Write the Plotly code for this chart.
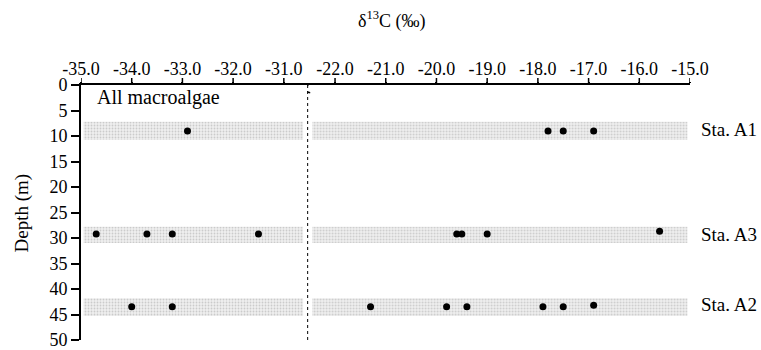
import plotly.graph_objects as go

# ---- data ----
left_ticks = [-35.0, -34.0, -33.0, -32.0, -31.0]
right_ticks = [-22.0, -21.0, -20.0, -19.0, -18.0, -17.0, -16.0, -15.0]
left_ticklabels = ["-35.0", "-34.0", "-33.0", "-32.0", "-31.0"]
right_ticklabels = ["-22.0", "-21.0", "-20.0", "-19.0", "-18.0", "-17.0", "-16.0", "-15.0"]
depth_ticks = [0, 5, 10, 15, 20, 25, 30, 35, 40, 45, 50]

left_range = [-35.0, -30.54]
right_range = [-22.55, -15.0]

stations = ["Sta. A1", "Sta. A3", "Sta. A2"]
station_depth = [8.8, 29.4, 43.1]
band_top = [7.2, 27.8, 41.8]
band_bottom = [10.8, 31.0, 45.3]
band_left_x = [-34.95, -30.62]
band_right_x = [-22.45, -15.05]

# sample points (d13C, depth)
a1_x = [-32.9, -17.8, -17.5, -16.9]
a1_y = [9.0, 9.0, 9.0, 9.0]
a3_x = [-34.7, -33.7, -33.2, -31.5, -19.6, -19.5, -19.0, -15.6]
a3_y = [29.2, 29.2, 29.2, 29.2, 29.2, 29.2, 29.2, 28.7]
a2_x = [-34.0, -33.2, -21.3, -19.8, -19.4, -17.9, -17.5, -16.9]
a2_y = [43.5, 43.5, 43.5, 43.5, 43.5, 43.5, 43.5, 43.2]

FONT = "Liberation Serif"
PLOT_H = 255  # plot-area height in px (350 - 85 - 10)
split = (left_range[1] - left_range[0]) / ((left_range[1] - left_range[0]) + (right_range[1] - right_range[0]))

fig = go.Figure()

# bands
for t, bt in zip(band_top, band_bottom):
    for xs, xa in ((band_left_x, "x"), (band_right_x, "x2")):
        fig.add_trace(go.Scatter(
            x=[xs[0], xs[1], xs[1], xs[0], xs[0]], y=[t, t, bt, bt, t],
            xaxis=xa, yaxis="y", mode="lines", fill="toself",
            line=dict(width=0), fillcolor="#e8e8e8",
            fillpattern=dict(shape=".", size=3, solidity=0.3, fgcolor="#a8a8a8", bgcolor="#efefef"),
            hoverinfo="skip", showlegend=False))

# points
all_x = a1_x + a3_x + a2_x
all_y = a1_y + a3_y + a2_y
lx = [v for v in all_x if v <= left_range[1]]
ly = [d for v, d in zip(all_x, all_y) if v <= left_range[1]]
rx = [v for v in all_x if v >= right_range[0]]
ry = [d for v, d in zip(all_x, all_y) if v >= right_range[0]]
fig.add_trace(go.Scatter(x=lx, y=ly, xaxis="x", yaxis="y", mode="markers",
                         marker=dict(color="black", size=7), showlegend=False))
fig.add_trace(go.Scatter(x=rx, y=ry, xaxis="x2", yaxis="y", mode="markers",
                         marker=dict(color="black", size=7), showlegend=False))

# break line (dotted)
b = right_range[0]
fig.add_trace(go.Scatter(x=[b, b], y=[0, 50.5], xaxis="x2", yaxis="y",
                         mode="lines", line=dict(color="black", width=2, dash="dot"),
                         cliponaxis=False, showlegend=False, hoverinfo="skip"))

axis_common = dict(side="top", anchor="y", showline=True, linecolor="black", linewidth=2,
                   ticks="outside", ticklen=1, tickwidth=1.5, tickcolor="black",
                   showgrid=False, zeroline=False, automargin=False,
                   tickfont=dict(family=FONT, size=18, color="black"))

fig.update_layout(
    width=761, height=350,
    margin=dict(l=81, r=71, t=85, b=10, autoexpand=False),
    paper_bgcolor="white", plot_bgcolor="white",
    xaxis=dict(domain=[0, split], range=left_range, tickvals=left_ticks,
               ticktext=left_ticklabels, **axis_common),
    xaxis2=dict(domain=[split, 1], range=right_range, tickvals=right_ticks,
                ticktext=right_ticklabels, **axis_common),
    yaxis=dict(range=[50, 0], tickvals=depth_ticks, showline=True, linecolor="black",
               linewidth=2, ticks="outside", ticklen=8, tickwidth=1.5, tickcolor="black",
               showgrid=False, zeroline=False, anchor="x", ticklabeloverflow="allow",
               automargin=False,
               tickfont=dict(family=FONT, size=18, color="black")),
)

# outside tick marks on the top axes (7 px)
for vals, xr in ((left_ticks, "x"), (right_ticks, "x2")):
    for v in vals:
        fig.add_shape(type="line", xref=xr, yref="paper", x0=v, x1=v,
                      y0=1, y1=1 + 7 / PLOT_H, line=dict(color="black", width=1.5))

# axis break squiggle
fig.add_shape(type="path", xref="x2", yref="y",
              path=f"M {b-0.02},-1.3 C {b+0.09},-1.4 {b+0.09},-0.2 {b},0 "
                   f"S {b-0.1},1.2 {b+0.06},1.5",
              line=dict(color="black", width=1.5))

annotations = [
    dict(text="δ<sup>13</sup>C (‰)", xref="paper", yref="paper", x=0.51, y=1.255,
         xanchor="center", yanchor="middle",
         showarrow=False, font=dict(family=FONT, size=18, color="black")),
    dict(text="Depth (m)", xref="paper", yref="paper", x=-0.097, y=0.5, textangle=-90,
         xanchor="center", yanchor="middle",
         showarrow=False, font=dict(family=FONT, size=19, color="black")),
    dict(text="All macroalgae", xref="x", yref="y", x=-34.72, y=2.4, xanchor="left",
         yanchor="middle", showarrow=False, font=dict(family=FONT, size=20, color="black")),
]
for s, d in zip(stations, station_depth):
    annotations.append(dict(text=s, xref="paper", yref="y", x=1.015, y=d, xanchor="left",
                            yanchor="middle", showarrow=False,
                            font=dict(family=FONT, size=19, color="black")))
fig.update_layout(annotations=annotations)

fig.write_html("out.html", config={"displayModeBar": False},
               post_script="document.body.style.margin='0';document.body.style.overflow='hidden';")
